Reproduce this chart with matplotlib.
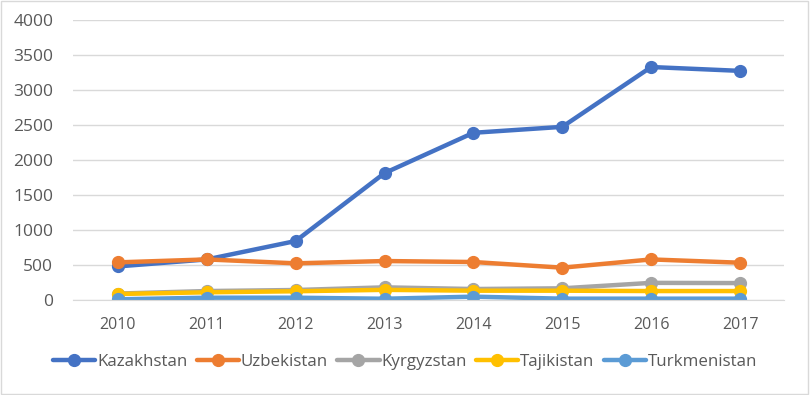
import matplotlib.pyplot as plt

years = ['2010', '2011', '2012', '2013', '2014', '2015', '2016', '2017']
kazakhstan = [480, 580, 843, 1814, 2390, 2475, 3330, 3275]
uzbekistan = [538, 580, 524, 557, 543, 462, 580, 533]
kyrgyzstan = [92, 128, 143, 181, 157, 167, 245, 242]
tajikistan = [86, 110, 125, 145, 133, 133, 128, 128]
turkmenistan = [10, 33, 33, 18, 48, 19, 19, 19]

series = [
    ('Kazakhstan', kazakhstan, '#4472C4'),
    ('Uzbekistan', uzbekistan, '#ED7D31'),
    ('Kyrgyzstan', kyrgyzstan, '#A5A5A5'),
    ('Tajikistan', tajikistan, '#FFC000'),
    ('Turkmenistan', turkmenistan, '#5B9BD5'),
]

plt.rcParams['font.family'] = ['Open Sans', 'DejaVu Sans']

fig = plt.figure(figsize=(8.1, 3.95), dpi=100)
ax = fig.add_axes([0.0907, 0.2405, 0.8778, 0.7085])

x = list(range(len(years)))
for name, vals, col in series:
    ax.plot(x, vals, color=col, lw=3.2, marker='o', ms=8.5, label=name,
            solid_capstyle='round')

ax.set_xlim(-0.5, len(years) - 0.5)
ax.set_ylim(0, 4000)
ax.set_yticks(range(0, 4001, 500))
ax.set_xticks(x)
ax.set_xticklabels(years)
ax.grid(axis='y', color='#D9D9D9', lw=1)
ax.set_axisbelow(True)
for s in ['top', 'right', 'left']:
    ax.spines[s].set_visible(False)
ax.spines['bottom'].set_color('#D9D9D9')
ax.tick_params(axis='both', length=0, colors='#595959')
ax.tick_params(axis='x', pad=12, labelsize=11.5)
ax.tick_params(axis='y', pad=14.5, labelsize=12.5)

leg = fig.legend(loc='center', bbox_to_anchor=(0.5, 0.084), ncol=5, frameon=False,
                 fontsize=12.2, handlelength=2.5, columnspacing=0.55, handletextpad=0.1)
for t in leg.get_texts():
    t.set_color('#595959')

fig.patches.append(plt.Rectangle((0.001, 0.002), 0.997, 0.996, transform=fig.transFigure,
                                 fill=False, edgecolor='#D9D9D9', lw=1))

fig.savefig('out.png', dpi=100)
